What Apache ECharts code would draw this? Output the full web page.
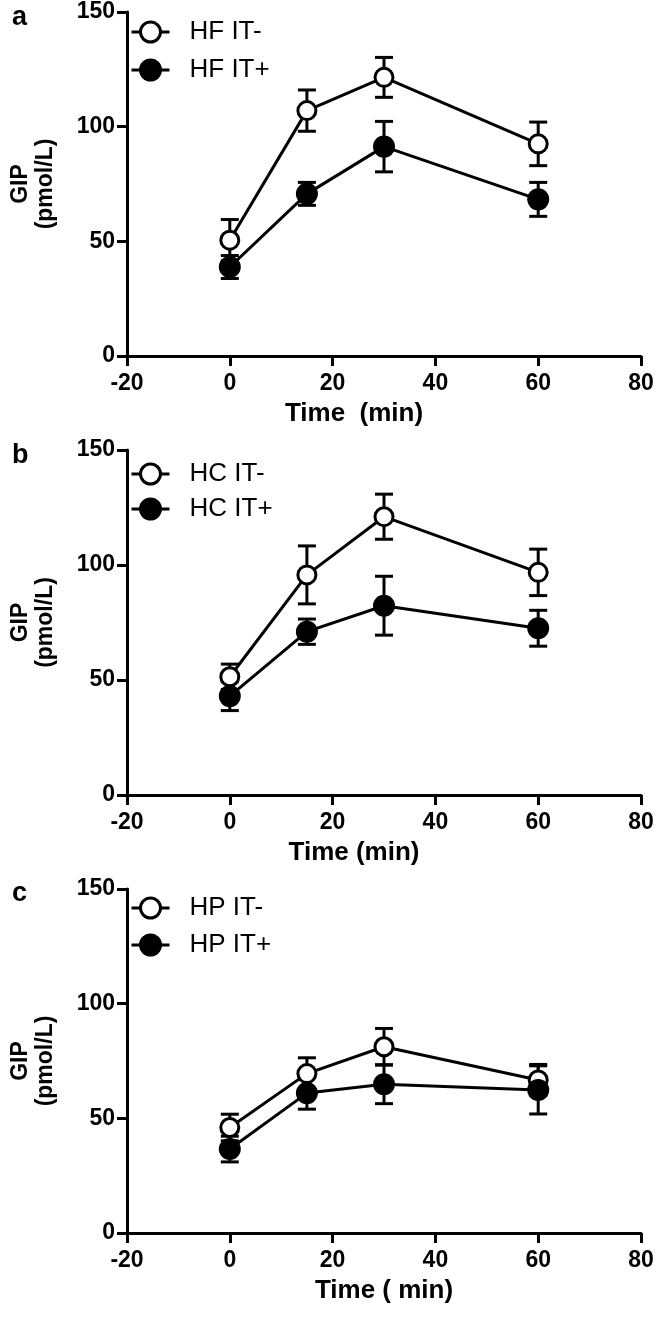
<!DOCTYPE html>
<html>
<head>
<meta charset="utf-8">
<script src="https://cdn.jsdelivr.net/npm/echarts@6/dist/echarts.min.js"></script>
<style>
html,body{margin:0;padding:0;background:#fff;}
#chart{width:657px;height:1317px;}
</style>
</head>
<body>
<div id="chart"></div>
<script>
// ---- data ----
const times = [0, 15, 30, 60];
const xTicks = [-20, 0, 20, 40, 60, 80];
const yTicks = [0, 50, 100, 150];
const panelLetters = ['a', 'b', 'c'];
const xNames = ['Time  (min)', 'Time (min)', 'Time ( min)'];
const seriesNames = [['HF IT-', 'HF IT+'], ['HC IT-', 'HC IT+'], ['HP IT-', 'HP IT+']];

const hfMinus = [50.5, 107, 121.5, 92.5];
const hfMinusErr = [9, 9, 8.7, 9.5];
const hfPlus = [38.8, 70.7, 91.3, 68.3];
const hfPlusErr = [5, 5, 11, 7.4];

const hcMinus = [51.4, 95.7, 121, 96.8];
const hcMinusErr = [5.5, 12.6, 9.8, 10.1];
const hcPlus = [43, 71, 82.3, 72.5];
const hcPlusErr = [6.3, 5.5, 12.8, 7.8];

const hpMinus = [46, 69.5, 81.2, 66.7];
const hpMinusErr = [5.8, 6.9, 8, 6.8];
const hpPlus = [36.6, 61, 64.9, 62.4];
const hpPlusErr = [5.6, 7, 8.5, 10.5];

const panelMeans = [[hfMinus, hfPlus], [hcMinus, hcPlus], [hpMinus, hpPlus]];
const panelErrs = [[hfMinusErr, hfPlusErr], [hcMinusErr, hcPlusErr], [hpMinusErr, hpPlusErr]];

// ---- layout ----
const FONT = "'Liberation Sans', Arial, Helvetica, sans-serif";
const gridTops = [12, 450, 889];
const gridHeights = [344, 345, 344];
const legendTops = [19, 461, 895];
const legendGaps = [12, 9, 11];
const titleTops = [4, 442, 880];
const xNamePad = [[0, 60, 0, 0], [0, 60, 0, 0], [0, 0, 0, 0]];

const chart = echarts.init(document.getElementById('chart'), null, {renderer: 'canvas'});

const grids = [], xAxes = [], yAxes = [], series = [], legends = [], titles = [];

function errRender(params, api) {
  const x = api.value(0), lo = api.value(1), hi = api.value(2);
  const t = api.coord([x, hi]);
  const b = api.coord([x, lo]);
  const w = 9;
  const st = {stroke: '#000', lineWidth: 3, lineCap: 'butt'};
  return {
    type: 'group',
    children: [
      {type: 'line', shape: {x1: t[0], y1: t[1], x2: b[0], y2: b[1]}, style: st},
      {type: 'line', shape: {x1: t[0] - w, y1: t[1], x2: t[0] + w, y2: t[1]}, style: st},
      {type: 'line', shape: {x1: b[0] - w, y1: b[1], x2: b[0] + w, y2: b[1]}, style: st}
    ]
  };
}

for (let p = 0; p < 3; p++) {
  grids.push({left: 123, width: 518, top: gridTops[p], height: gridHeights[p], containLabel: false});
  xAxes.push({
    type: 'value', gridIndex: p, min: -20, max: 80, interval: 20,
    name: xNames[p], nameLocation: 'middle', nameGap: 45,
    nameTextStyle: {fontFamily: FONT, fontWeight: 'bold', fontSize: 26, color: '#000', padding: xNamePad[p]},
    axisLine: {show: true, onZero: false, lineStyle: {color: '#000', width: 3}},
    axisTick: {show: true, inside: false, length: 10, lineStyle: {color: '#000', width: 3}},
    axisLabel: {fontFamily: FONT, fontWeight: 'bold', fontSize: 23, color: '#000', margin: 16,
      formatter: v => xTicks.indexOf(v) >= 0 ? String(v) : ''},
    splitLine: {show: false}
  });
  yAxes.push({
    type: 'value', gridIndex: p, min: 0, max: 150, interval: 50,
    name: 'GIP\n(pmol/L)', nameLocation: 'middle', nameGap: 69, nameRotate: 90,
    nameTextStyle: {fontFamily: FONT, fontWeight: 'bold', fontSize: 23, color: '#000', lineHeight: 25, align: 'center'},
    axisLine: {show: true, onZero: false, lineStyle: {color: '#000', width: 3}},
    axisTick: {show: true, inside: false, length: 10, lineStyle: {color: '#000', width: 3}},
    axisLabel: {fontFamily: FONT, fontWeight: 'bold', fontSize: 23, color: '#000', margin: 12,
      formatter: v => yTicks.indexOf(v) >= 0 ? String(v) : ''},
    splitLine: {show: false}
  });
  // error bars first
  for (let s = 0; s < 2; s++) {
    const m = panelMeans[p][s], e = panelErrs[p][s];
    series.push({
      type: 'custom', name: seriesNames[p][s] + ' SEM', xAxisIndex: p, yAxisIndex: p, z: 1,
      renderItem: errRender, silent: true,
      encode: {x: 0, y: [1, 2]},
      data: times.map((t, i) => [t, m[i] - e[i], m[i] + e[i]])
    });
  }
  for (let s = 0; s < 2; s++) {
    const m = panelMeans[p][s];
    const open = s === 0;
    series.push({
      type: 'line', name: seriesNames[p][s], xAxisIndex: p, yAxisIndex: p, z: open ? 3 : 4,
      symbol: 'circle', symbolSize: open ? 18 : 22, showSymbol: true,
      lineStyle: {color: '#000', width: 3},
      itemStyle: {color: open ? '#fff' : '#000', borderColor: '#000', borderWidth: open ? 3 : 0},
      emphasis: {disabled: true},
      data: times.map((t, i) => [t, m[i]])
    });
  }
  legends.push({
    data: seriesNames[p], orient: 'vertical', left: 130, top: legendTops[p],
    padding: 0, itemWidth: 38, itemHeight: 25, itemGap: legendGaps[p],
    selectedMode: false,
    itemStyle: {borderWidth: 3, borderColor: '#000'},
    lineStyle: {width: 3, color: '#000'},
    textStyle: {fontFamily: FONT, fontSize: 26, color: '#000', padding: [0, 0, 0, 15]}
  });
  titles.push({
    text: panelLetters[p], left: 12, top: titleTops[p], padding: 0,
    textStyle: {fontFamily: FONT, fontWeight: 'bold', fontSize: 27, color: '#000'}
  });
}

chart.setOption({
  animation: false,
  backgroundColor: '#fff',
  title: titles,
  legend: legends,
  grid: grids,
  xAxis: xAxes,
  yAxis: yAxes,
  series: series
});
</script>
</body>
</html>
